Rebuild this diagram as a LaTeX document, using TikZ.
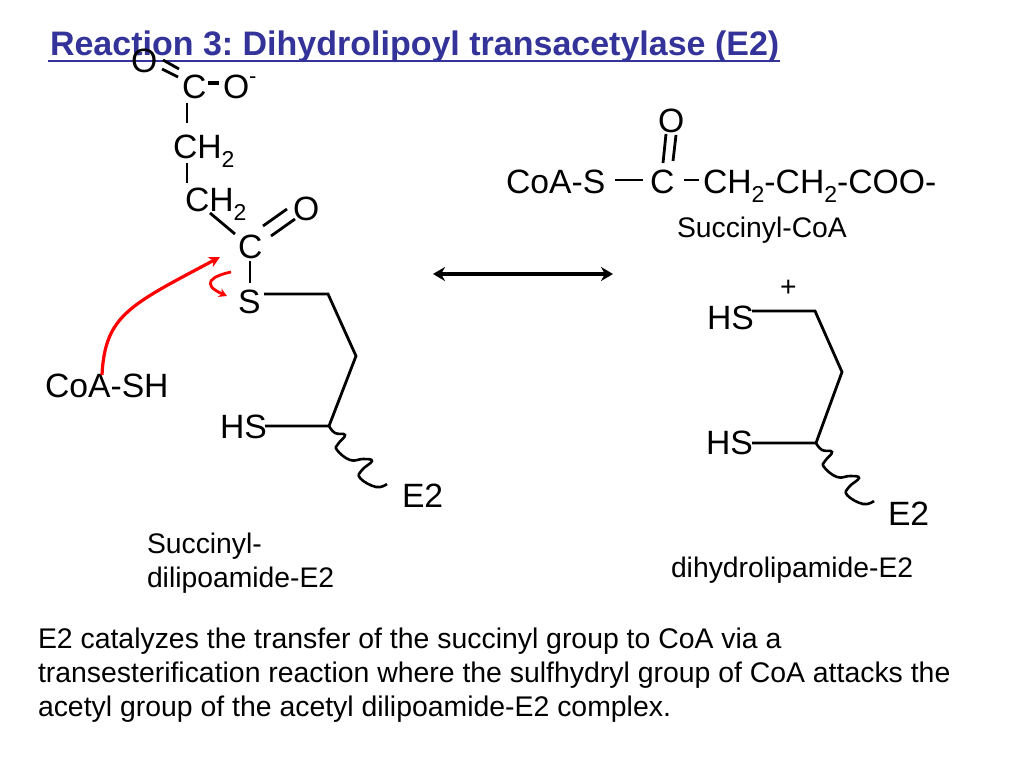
\documentclass[tikz,border=0pt]{standalone}
\usepackage{fontspec}
\setmainfont[Kerning=Off]{Liberation Sans}
\usetikzlibrary{arrows.meta}
\newcommand{\fsz}[1]{\fontsize{#1}{#1}\selectfont}
\newcommand{\subtwo}{\raisebox{-0.27em}{\fsz{23}2}}
\definecolor{titleblue}{HTML}{333399}
\tikzset{
  lab/.style={anchor=base west,inner sep=0pt,outer sep=0pt,text=black},
  big/.style={lab,font=\fsz{33.7}},
  mid/.style={lab,font=\fsz{28.3}},
  body/.style={lab,font=\fsz{28.4}},
  bond/.style={draw=black,line width=2.8pt},
  redarrow/.style={draw=red,line width=3.2pt,-{Stealth[length=11pt,width=11pt]}},
  squig/.style={draw=black,line width=2.6pt,smooth,tension=0.75},
}
\begin{document}
\frenchspacing
\begin{tikzpicture}[x=1pt,y=-1pt]
\useasboundingbox (0,0) rectangle (1024,768);
\fill[white] (0,0) rectangle (1024,768);
% title
\node[lab,font=\fsz{34}\bfseries,text=titleblue] (title) at (50,56) {Reaction 3: Dihydrolipoyl transacetylase (E2)};
\coordinate (ulA) at (48,61); \coordinate (ulB) at (780,61);
\draw[titleblue,line width=2pt] (ulA) -- (ulB);
% left molecule labels
\node[big] (o1) at (131,72) {O};
\node[big] (c1) at (182,98) {C};
\node[big] (om) at (223,98) {O\raisebox{0.42em}{\fsz{22}-}};
\node[big] (ch1) at (173,158) {CH\subtwo};
\node[big] (ch2) at (185,211) {CH\subtwo};
\node[big] (c2) at (238,258) {C};
\node[big] (o2) at (293,220) {O};
\node[big] (s1) at (238,313) {S};
\node[big] (coash) at (45,397) {CoA-SH};
\node[big] (hs1) at (220,438) {HS};
\node[big] (e1) at (402,507) {E2};
\node[mid] (lab1a) at (147,553) {Succinyl-};
\node[mid] (lab1b) at (147,587) {dilipoamide-E2};
% left molecule bonds
\coordinate (d1a) at (163,60); \coordinate (d1b) at (179,69);
\coordinate (d2a) at (162,69); \coordinate (d2b) at (178,77);
\draw[bond] (d1a) -- (d1b); \draw[bond] (d2a) -- (d2b);
\coordinate (b1a) at (208,83); \coordinate (b1b) at (219,83);
\draw[bond,line width=4pt] (b1a) -- (b1b);
\coordinate (b2a) at (187,103); \coordinate (b2b) at (187,123);
\draw[bond] (b2a) -- (b2b);
\coordinate (b3a) at (187,163); \coordinate (b3b) at (187,183);
\draw[bond] (b3a) -- (b3b);
\coordinate (b4a) at (210,213); \coordinate (b4b) at (235,234);
\draw[bond] (b4a) -- (b4b);
\coordinate (d3a) at (263,226); \coordinate (d3b) at (287,209);
\coordinate (d4a) at (271,236); \coordinate (d4b) at (295,219);
\draw[bond] (d3a) -- (d3b); \draw[bond] (d4a) -- (d4b);
\coordinate (b5a) at (250,261); \coordinate (b5b) at (250,283);
\draw[bond] (b5a) -- (b5b);
\coordinate (v1) at (264,294); \coordinate (v2) at (328,294);
\coordinate (v3) at (356,356); \coordinate (v4) at (329,426);
\coordinate (v5) at (265,426);
\draw[bond,line join=miter] (v1) -- (v2) -- (v3) -- (v4) -- (v5);
\draw[squig] plot coordinates {(v4) (335,433) (345,435) (338,444) (337,450) (350,460) (363,459) (372,461) (362,470) (360,478) (376,487) (387,484)};
% red arrows
\coordinate (r1) at (102,375); \coordinate (r2) at (220,257);
\draw[redarrow] (r1) .. controls (105,315) and (130,305) .. (r2);
\coordinate (r3) at (231,272); \coordinate (r4) at (227,296);
\draw[redarrow,line width=2.8pt,-{Stealth[length=8pt,width=9pt]}] (r3) .. controls (212,276) and (200,284) .. (r4);
% equilibrium arrow
\coordinate (eqa) at (433,274); \coordinate (eqb) at (613,274);
\draw[line width=3.6pt,{Stealth[length=12pt,width=14pt]}-{Stealth[length=12pt,width=14pt]}] (eqa) -- (eqb);
% succinyl-CoA
\node[big] (o3) at (658,132) {O};
\node[big] (coas) at (506,193) {CoA-S};
\node[big] (c3) at (650,193) {C};
\node[big] (chain) at (703,193) {CH\subtwo-CH\subtwo-COO-};
\node[mid] (lab2) at (677,237) {Succinyl-CoA};
\coordinate (e1a) at (666,134); \coordinate (e1b) at (663,163);
\coordinate (e2a) at (676,135); \coordinate (e2b) at (673,161);
\draw[bond] (e1a) -- (e1b); \draw[bond] (e2a) -- (e2b);
\coordinate (e3a) at (615,180); \coordinate (e3b) at (643,180);
\draw[bond] (e3a) -- (e3b);
\coordinate (e4a) at (684,180); \coordinate (e4b) at (699,180);
\draw[bond] (e4a) -- (e4b);
% right molecule
\node[mid] (plus) at (780,296) {+};
\node[big] (hs2) at (707,329) {HS};
\node[big] (hs3) at (706,454) {HS};
\node[big] (e2) at (888,525) {E2};
\node[mid] (lab3) at (671,577) {dihydrolipamide-E2};
\coordinate (w1) at (752,311); \coordinate (w2) at (815,311);
\coordinate (w3) at (842,372); \coordinate (w4) at (816,443);
\coordinate (w5) at (752,443);
\draw[bond,line join=miter] (w1) -- (w2) -- (w3) -- (w4) -- (w5);
\draw[squig] plot coordinates {(w4) (822,450) (832,452) (825,461) (824,467) (837,477) (850,476) (859,478) (849,487) (847,495) (863,504) (874,501)};
% description
\node[body] (t1) at (38,648) {E2 catalyzes the transfer of the succinyl group to CoA via a};
\node[body] (t2) at (38,682) {transesterification reaction where the sulfhydryl group of CoA attacks the};
\node[body] (t3) at (38,716) {acetyl group of the acetyl dilipoamide-E2 complex.};
\end{tikzpicture}
\end{document}
